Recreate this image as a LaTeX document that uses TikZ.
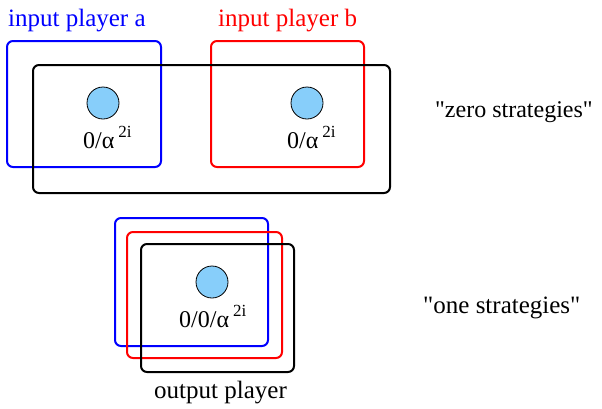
\documentclass[tikz,border=0pt]{standalone}
\usepackage{fontspec}
\setmainfont{Liberation Serif}[Ligatures=TeXOff]
\usetikzlibrary{positioning}
\definecolor{PlayerA}{HTML}{0000FF}
\definecolor{PlayerB}{HTML}{FF0000}
\definecolor{Bead}{HTML}{87CEFA}
\newcommand{\twoi}{\,\raisebox{0.45em}{\fontsize{17}{17}\selectfont 2i}}

\begin{document}
\begin{tikzpicture}[x=1pt,y=-1pt,
  frame/.style={line width=2pt,rounded corners=6pt},
  bead/.style={circle,draw,fill=Bead,minimum size=32pt,inner sep=0pt,line width=0.8pt},
  lbl/.style={font=\fontsize{24}{28}\selectfont,inner sep=0pt,anchor=base west},
  biglbl/.style={lbl,font=\fontsize{25}{29}\selectfont}]
  \useasboundingbox (0,0) rectangle (602,408);
  % zero strategies: two input players
  \draw[PlayerA,frame] (7,41) rectangle (161,167);
  \draw[PlayerB,frame] (211,41) rectangle (364,167);
  \draw[frame] (33,65) rectangle (390,193);
  \node[bead] (beadA) at (103,103) {};
  \node[bead] (beadB) at (307,103) {};
  \node[biglbl,PlayerA] (inA) at (8,26) {input player a};
  \node[biglbl,PlayerB] (inB) at (218,26) {input player b};
  \node[lbl] (valA) at (83,148) {0/α\twoi};
  \node[lbl] (valB) at (287,148) {0/α\twoi};
  \node[lbl] (zero) at (435,117) {"zero strategies"};
  % one strategies: output player
  \draw[PlayerA,frame] (115,218) rectangle (268,346);
  \draw[PlayerB,frame] (127,232) rectangle (282,358);
  \draw[frame] (141,244) rectangle (294,372);
  \node[bead] (beadOut) at (212,282) {};
  \node[lbl] (valOut) at (179,327) {0/0/α\twoi};
  \node[biglbl] (out) at (154,398) {output player};
  \node[biglbl] (one) at (423,313) {"one strategies"};
\end{tikzpicture}
\end{document}
